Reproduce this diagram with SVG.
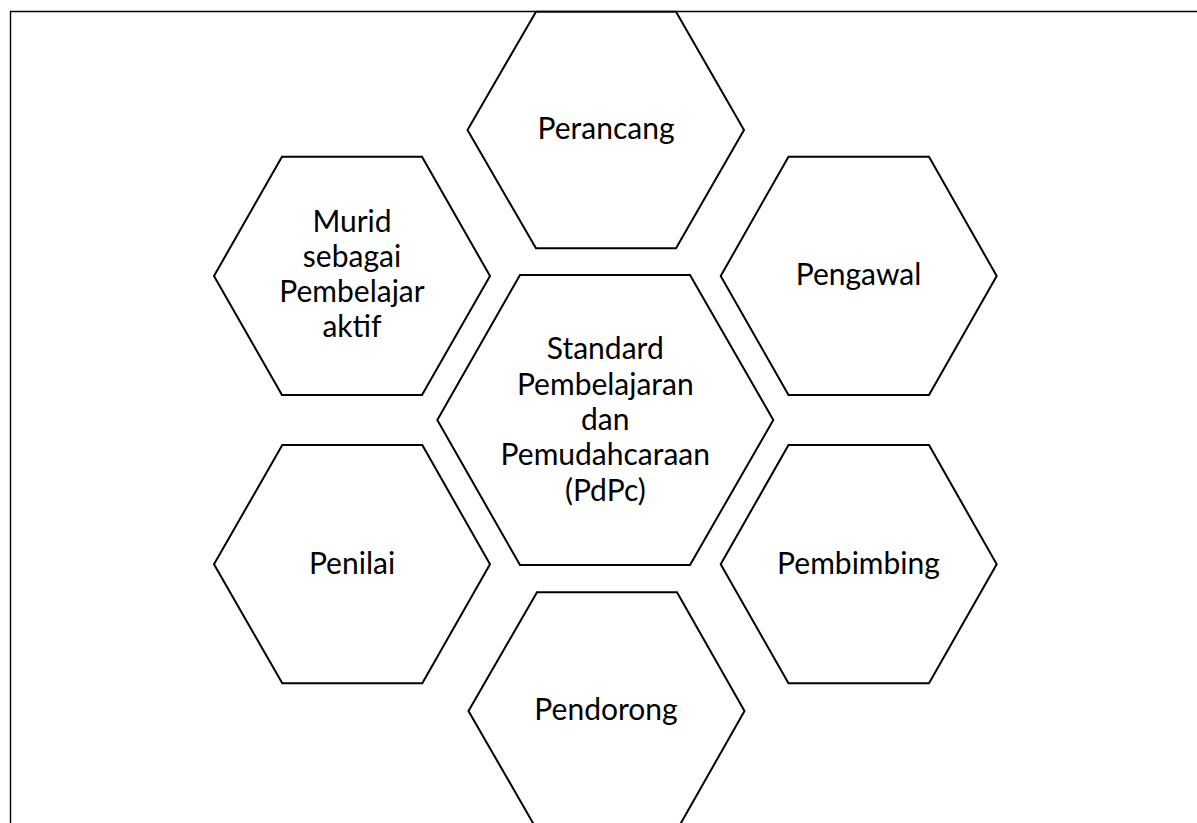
<svg xmlns="http://www.w3.org/2000/svg" width="1197" height="823" viewBox="0 0 1197 823">
<defs>
<style>
.hex{fill:#fff;stroke:#000;stroke-width:2;stroke-linejoin:miter}
.lbl{font-family:Lato,"Open Sans","Liberation Sans",sans-serif;font-size:30px;fill:#000;text-anchor:middle}
.frame{fill:none;stroke:#000;stroke-width:1.4}
</style>
</defs>
<rect width="1197" height="823" fill="#fff"/>
<path class="frame" d="M10.5 830 V11.5 H1200"/>
<g id="connectors"></g>
<g id="node-perancang">
<polygon class="hex" points="536,11.7 676,11.7 744,130 676,248.3 536,248.3 467.5,130"/>
<text class="lbl" x="606" y="138.5">Perancang</text>
</g>
<g id="node-murid">
<polygon class="hex" points="282,156.7 422,156.7 490,276 422,395 282,395 214,276"/>
<text class="lbl" x="352" y="232.3">Murid</text>
<text class="lbl" x="352" y="267.3">sebagai</text>
<text class="lbl" x="352" y="302.3">Pembelajar</text>
<text class="lbl" x="352" y="337.3">aktif</text>
</g>
<g id="node-pengawal">
<polygon class="hex" points="788.5,156.7 929,156.7 996.7,276 929,395 788.5,395 720.7,276"/>
<text class="lbl" x="858.5" y="285">Pengawal</text>
</g>
<g id="node-center">
<polygon class="hex" points="520,275 690,275 773.3,420 690,565 520,565 437.3,420"/>
<text class="lbl" x="605.3" y="359.3">Standard</text>
<text class="lbl" x="605.3" y="394.6">Pembelajaran</text>
<text class="lbl" x="605.3" y="430">dan</text>
<text class="lbl" x="605.3" y="465.3">Pemudahcaraan</text>
<text class="lbl" x="605.3" y="500.6">(PdPc)</text>
</g>
<g id="node-penilai">
<polygon class="hex" points="282.3,445 422.3,445 490,564.3 422.3,683.3 282.3,683.3 214,564.3"/>
<text class="lbl" x="352" y="574">Penilai</text>
</g>
<g id="node-pembimbing">
<polygon class="hex" points="788.5,445 929,445 996.7,564.3 929,683.3 788.5,683.3 720.7,564.3"/>
<text class="lbl" x="858.5" y="574">Pembimbing</text>
</g>
<g id="node-pendorong">
<polygon class="hex" points="537,592.3 677,592.3 744.5,711 677,830 537,830 468.5,711"/>
<text class="lbl" x="606" y="720">Pendorong</text>
</g>
</svg>
